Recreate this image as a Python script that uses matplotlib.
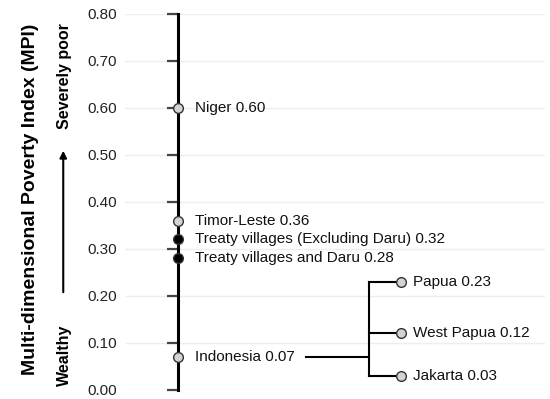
import matplotlib
matplotlib.use('Agg')
import matplotlib.pyplot as plt

plt.rcParams['font.family'] = ['Liberation Sans', 'DejaVu Sans']

# main column: places on the MPI scale
names = ['Niger', 'Timor-Leste', 'Treaty villages (Excluding Daru)',
         'Treaty villages and Daru', 'Indonesia']
mpi = [0.60, 0.36, 0.32, 0.28, 0.07]
filled = [False, False, True, True, False]

# Indonesian provinces branching off Indonesia
prov_names = ['Papua', 'West Papua', 'Jakarta']
prov_mpi = [0.23, 0.12, 0.03]

yticks = [0.0, 0.1, 0.2, 0.3, 0.4, 0.5, 0.6, 0.7, 0.8]

# x positions (arbitrary units)
x_main = 1.26
x_branch = 5.81
x_prov = 6.57
x_link = 4.31

fig = plt.figure(figsize=(5.5, 3.99), dpi=100)
ax = fig.add_axes([0.227, 0.023, 0.764, 0.942])
ax.set_xlim(0, 10)
ax.set_ylim(0, 0.8)

# axis styling: spine moved onto the main line
for s in ['top', 'right', 'bottom']:
    ax.spines[s].set_visible(False)
ax.spines['left'].set_position(('data', x_main))
ax.spines['left'].set_linewidth(2.2)
ax.spines['left'].set_color('black')
ax.set_xticks([])
ax.set_yticks(yticks)
ax.set_yticklabels(['%.2f' % t for t in yticks], fontsize=11, color='#222222')
ax.tick_params(axis='y', direction='out', length=8, width=1.6, color='#444444', pad=36)
ax.yaxis.grid(True, color='#eeeeee', lw=1)
ax.set_axisbelow(True)

# main points
for n, v, f in zip(names, mpi, filled):
    ax.plot(x_main, v, 'o', ms=7, mfc='black' if f else '#d3d3d3',
            mec='#333333', mew=1, zorder=5, clip_on=False)
    ax.text(x_main + 0.42, v, '%s %.2f' % (n, v), fontsize=11,
            va='center', ha='left', color='#111111')

# branch from Indonesia to provinces
indo = mpi[names.index('Indonesia')]
ax.plot([x_link, x_branch], [indo, indo], color='black', lw=1.5)
ax.plot([x_branch, x_branch], [min(prov_mpi), max(prov_mpi)], color='black', lw=1.5)
for n, v in zip(prov_names, prov_mpi):
    ax.plot([x_branch, x_prov], [v, v], color='black', lw=1.5)
    ax.plot(x_prov, v, 'o', ms=7, mfc='#d3d3d3', mec='#333333', mew=1, zorder=5)
    ax.text(x_prov + 0.28, v, '%s %.2f' % (n, v), fontsize=11,
            va='center', ha='left', color='#111111')

# y label and direction annotations
fig.text(0.055, 0.5, 'Multi-dimensional Poverty Index (MPI)', rotation=90,
         fontsize=14, fontweight='bold', ha='center', va='center')
fig.text(0.118, 0.81, 'Severely poor', rotation=90, fontsize=11.5,
         fontweight='bold', ha='center', va='center')
fig.text(0.118, 0.11, 'Wealthy', rotation=90, fontsize=11.5,
         fontweight='bold', ha='center', va='center')
fig.add_artist(matplotlib.patches.FancyArrowPatch(
    (0.115, 1 - 295 / 399), (0.115, 1 - 148 / 399), transform=fig.transFigure,
    arrowstyle='-|>', mutation_scale=10, color='black', lw=1.5))

fig.savefig('out.png', dpi=100)
